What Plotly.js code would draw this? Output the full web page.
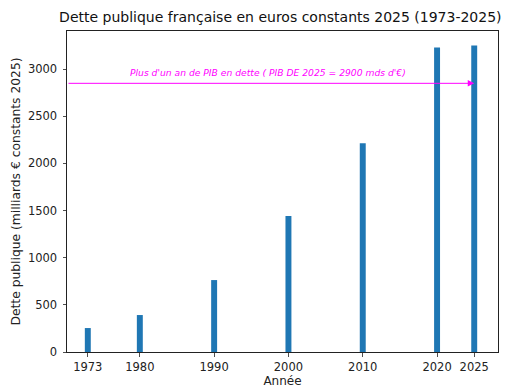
<!DOCTYPE html>
<html>
<head>
<meta charset="utf-8">
<script src="https://cdn.plot.ly/plotly-3.0.1.min.js"></script>
<style>html,body{margin:0;padding:0;background:#fff;}#chart{width:524px;height:389px;}</style>
</head>
<body>
<div id="chart"></div>
<script>
const years = [1973, 1980, 1990, 2000, 2010, 2020, 2025];
const debt = [254, 392, 763, 1442, 2214, 3230, 3252];
const tickLabels = ['1973', '1980', '1990', '2000', '2010', '2020', '2025'];
const pib2025Line = 2850;
const noteText = "Plus d'un an de PIB en dette ( PIB DE 2025 = 2900 mds d'€)";

const trace = {
  type: 'bar',
  x: years,
  y: debt,
  width: 0.8,
  marker: {color: '#1f77b4', line: {width: 0}},
  hoverinfo: 'x+y'
};

const layout = {
  width: 524, height: 389,
  margin: {l: 67, r: 26, t: 31, b: 37},
  paper_bgcolor: '#fff', plot_bgcolor: '#fff',
  font: {family: 'DejaVu Sans', size: 11.5, color: '#222'},
  showlegend: false,
  title: {text: 'Dette publique française en euros constants 2025 (1973-2025)', font: {size: 14, color: '#111'}, x: 0.535, xanchor: 'center', y: 0.955, yanchor: 'middle'},
  xaxis: {
    range: [1970.2, 2028.2],
    tickvals: years, ticktext: tickLabels,
    ticks: 'outside', ticklen: 3.5, tickcolor: '#222', tickwidth: 0.8,
    ticklabelstandoff: 1,
    showline: true, linecolor: '#222', linewidth: 1, mirror: true,
    showgrid: false, zeroline: false,
    title: {text: 'Année', font: {size: 12}, standoff: 2},
    fixedrange: true
  },
  yaxis: {
    range: [0, 3405],
    tickvals: [0, 500, 1000, 1500, 2000, 2500, 3000],
    ticks: 'outside', ticklen: 3.5, tickcolor: '#222', tickwidth: 0.8,
    ticklabelstandoff: 3,
    showline: true, linecolor: '#222', linewidth: 1, mirror: true,
    showgrid: false, zeroline: false,
    title: {text: 'Dette publique (milliards € constants 2025)', font: {size: 12.3}, standoff: 4},
    fixedrange: true
  },
  annotations: [
    {
      x: 2025, y: pib2025Line, xref: 'x', yref: 'y',
      ax: 1970.2, ay: pib2025Line, axref: 'x', ayref: 'y',
      text: '', showarrow: true, arrowhead: 2, arrowsize: 1.3, arrowwidth: 1, arrowcolor: '#ff00ff', standoff: 0
    },
    {
      x: 1997.3, y: 2960, xref: 'x', yref: 'y',
      text: noteText, showarrow: false,
      font: {size: 9.2, color: '#ff00ff', style: 'italic', family: 'DejaVu Sans'},
      xanchor: 'center', yanchor: 'middle'
    }
  ]
};

Plotly.newPlot('chart', [trace], layout, {displayModeBar: false, staticPlot: true});
</script>
</body>
</html>
